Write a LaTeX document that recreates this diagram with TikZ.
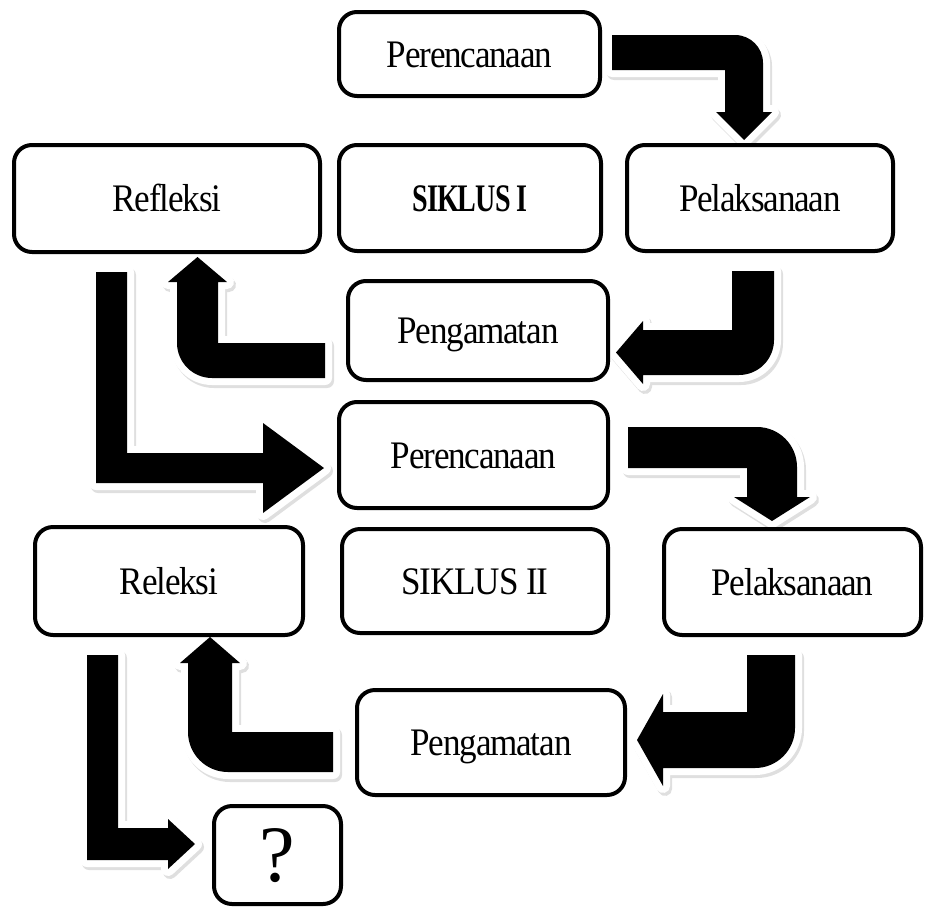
\documentclass[tikz,border=0pt]{standalone}
\usepackage{fontspec}
\setmainfont{Liberation Serif}[LetterSpace=-3,FakeStretch=0.9]
\newfontfamily\qfont{Liberation Serif}
\begin{document}
\begin{tikzpicture}[x=1pt,y=-1pt,
  box/.style={draw=black, line width=4pt, fill=white, rounded corners=18pt,
    inner sep=0pt, text height=26pt, text depth=0pt,
    font=\fontsize{39}{42}\selectfont},
  barrow/.style={fill=black,
    preaction={fill=gray!25, draw=gray!25, line width=14pt, line join=round,
      transform canvas={shift={(2pt,-3pt)}}},
    preaction={draw=white, line width=14pt, line join=round}}]
\useasboundingbox (0,0) rectangle (925,910);

% bent block arrows
% Perencanaan I -> Pelaksanaan I
\path[barrow] (612,35) -- (735,35) .. controls (750.5,35) and (763,47.5) .. (763,63)
  -- (763,112) -- (772,112) -- (744,140) -- (716,112) -- (725,112) -- (725,70) -- (612,70) -- cycle;
% Pelaksanaan I -> Pengamatan I
\path[barrow] (732,271) -- (774,271) -- (774,340) .. controls (774,359.3) and (758.3,375) .. (739,375)
  -- (643,375) -- (643,384) -- (616,352.5) -- (643,321) -- (643,330) -- (732,330) -- cycle;
% Pengamatan I -> Refleksi
\path[barrow] (325,343) -- (325,378) -- (212,378) .. controls (192.7,378) and (177,362.3) .. (177,343)
  -- (177,282) -- (168,282) -- (197.5,257) -- (227,282) -- (218,282) -- (218,343) -- cycle;
% Refleksi -> Perencanaan II
\path[barrow] (96,272) -- (127,272) -- (127,453) -- (263,453) -- (263,423) -- (324,468)
  -- (263,513) -- (263,483) -- (96,483) -- cycle;
% Perencanaan II -> Pelaksanaan II
\path[barrow] (628,427) -- (757,427) .. controls (779.1,427) and (797,444.9) .. (797,467)
  -- (797,497) -- (810,497) -- (772,521) -- (734,497) -- (747,497) -- (747,468) -- (628,468) -- cycle;
% Pelaksanaan II -> Pengamatan II
\path[barrow] (747,655) -- (795,655) -- (795,728) .. controls (795,750.1) and (777.1,768) .. (755,768)
  -- (663,768) -- (663,786) -- (637,740) -- (663,694) -- (663,712) -- (747,712) -- cycle;
% Pengamatan II -> Releksi
\path[barrow] (333,732) -- (333,772) -- (228,772) .. controls (205.9,772) and (188,754.1) .. (188,732)
  -- (188,663) -- (180,663) -- (210,637) -- (240,663) -- (232,663) -- (232,732) -- cycle;
% Releksi -> ?
\path[barrow] (87,655) -- (118,655) -- (118,828) -- (168,828) -- (168,819) -- (195,844)
  -- (168,869) -- (168,860) -- (87,860) -- cycle;

% boxes
\node[box, minimum width=261pt, minimum height=84pt] (per1) at (469.5,54) {Perencanaan};
\node[box, minimum width=306pt, minimum height=107pt] (ref1) at (167,198.5) {Refleksi};
\node[box, minimum width=262pt, minimum height=106pt] (sik1) at (470,198) {\scalebox{0.8}[1]{\bfseries SIKLUS I}};
\node[box, minimum width=266pt, minimum height=106pt] (pel1) at (760,198) {Pelaksanaan};
\node[box, minimum width=260pt, minimum height=99pt] (pen1) at (478,330.5) {Pengamatan};
\node[box, minimum width=269pt, minimum height=106pt] (per2) at (473.5,455) {Perencanaan};
\node[box, minimum width=268pt, minimum height=108pt] (ref2) at (169,581) {Releksi};
\node[box, minimum width=266pt, minimum height=104pt] (sik2) at (475,581) {SIKLUS II};
\node[box, minimum width=257pt, minimum height=106pt] (pel2) at (792.5,582) {Pelaksanaan};
\node[box, minimum width=268pt, minimum height=105pt] (pen2) at (491,742.5) {Pengamatan};
\node[box, minimum width=127pt, minimum height=98pt, text height=52pt,
  font=\qfont\fontsize{80}{84}\selectfont] (q) at (277.5,855) {?};
\end{tikzpicture}
\end{document}
